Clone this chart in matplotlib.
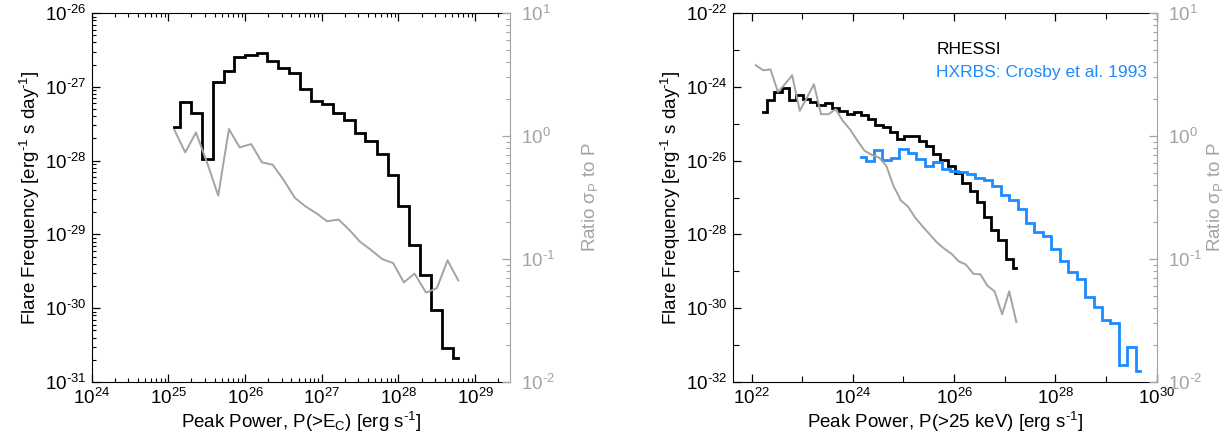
import numpy as np
import matplotlib
matplotlib.use("Agg")
import matplotlib.pyplot as plt
from matplotlib.ticker import LogLocator, NullFormatter, FuncFormatter

plt.rcParams['font.family'] = ['Liberation Sans', 'DejaVu Sans']
plt.rcParams['mathtext.fontset'] = 'custom'
plt.rcParams['mathtext.rm'] = 'Liberation Sans'
plt.rcParams['mathtext.it'] = 'Liberation Sans:italic'
plt.rcParams['mathtext.bf'] = 'Liberation Sans:bold'
plt.rcParams['mathtext.sf'] = 'Liberation Sans'
plt.rcParams['axes.unicode_minus'] = False

GRAY = '#a3a3a3'
BLUE = '#1a8cff'

# ---- left panel: flare frequency vs peak power P(>Ec) (log10 values) ----
left_logp = [25.08, 25.22, 25.36, 25.51, 25.65, 25.79, 25.93, 26.08, 26.22,
             26.36, 26.50, 26.65, 26.79, 26.93, 27.07, 27.22, 27.36, 27.50,
             27.64, 27.79, 27.93, 28.07, 28.21, 28.36, 28.50, 28.64, 28.78]
left_logfreq = [-27.55, -27.21, -27.35, -27.98, -26.94, -26.78, -26.59, -26.57, -26.54,
                -26.65, -26.74, -26.81, -27.03, -27.19, -27.23, -27.35, -27.45, -27.63,
                -27.73, -27.91, -28.20, -28.61, -29.14, -29.55, -30.03, -30.54, -30.67]
left_logratio = [0.049, -0.133, 0.029, -0.225, -0.484, 0.057, -0.092, -0.065, -0.214,
                 -0.233, -0.354, -0.503, -0.573, -0.628, -0.693, -0.679, -0.764, -0.860,
                 -0.925, -1.001, -1.033, -1.190, -1.119, -1.273, -1.238, -1.011, -1.174]

# ---- right panel: RHESSI vs HXRBS, P(>25 keV) ----
rhessi_logp = [22.23, 22.37, 22.52, 22.66, 22.80, 22.95, 23.09, 23.23, 23.37, 23.52,
               23.66, 23.80, 23.95, 24.09, 24.23, 24.37, 24.52, 24.66, 24.80, 24.95,
               25.09, 25.23, 25.38, 25.52, 25.66, 25.80, 25.95, 26.09, 26.23, 26.38,
               26.52, 26.66, 26.80, 26.95, 27.09, 27.23]
rhessi_logfreq = [-24.69, -24.36, -24.13, -24.04, -24.35, -24.22, -24.33, -24.41, -24.49, -24.45,
                  -24.58, -24.65, -24.74, -24.68, -24.76, -24.87, -25.04, -25.08, -25.22, -25.40,
                  -25.32, -25.32, -25.46, -25.59, -25.82, -25.98, -26.15, -26.34, -26.61, -26.83,
                  -27.11, -27.53, -27.87, -28.14, -28.66, -28.90]

ratio_logp = [22.08, 22.23, 22.37, 22.52, 22.66, 22.80, 22.95, 23.09, 23.23, 23.37,
              23.52, 23.66, 23.80, 23.95, 24.09, 24.23, 24.37, 24.52, 24.66, 24.80,
              24.95, 25.09, 25.23, 25.38, 25.52, 25.66, 25.80, 25.95, 26.09, 26.23,
              26.38, 26.52, 26.66, 26.80, 26.95, 27.09, 27.23]
ratio_logval = [0.576, 0.535, 0.543, 0.359, 0.424, 0.495, 0.205, 0.311, 0.422, 0.178,
                0.178, 0.219, 0.124, 0.051, -0.038, -0.119, -0.152, -0.176, -0.241, -0.403,
                -0.525, -0.573, -0.663, -0.736, -0.800, -0.865, -0.914, -0.958, -1.019, -1.044,
                -1.120, -1.125, -1.218, -1.263, -1.449, -1.263, -1.512]

hxrbs_logp = [24.17, 24.34, 24.50, 24.67, 24.84, 25.00, 25.17, 25.34, 25.50, 25.67,
              25.84, 26.00, 26.17, 26.34, 26.50, 26.67, 26.84, 27.00, 27.17, 27.34,
              27.50, 27.67, 27.84, 28.00, 28.17, 28.34, 28.50, 28.67, 28.84, 29.00,
              29.17, 29.34, 29.50, 29.67]
hxrbs_logfreq = [-25.91, -26.00, -25.70, -25.98, -25.94, -25.69, -25.80, -25.95, -26.14, -26.03,
                 -26.22, -26.27, -26.32, -26.36, -26.46, -26.53, -26.70, -26.92, -27.06, -27.31,
                 -27.68, -27.94, -28.04, -28.39, -28.72, -29.01, -29.22, -29.69, -29.96, -30.32,
                 -30.40, -31.53, -31.05, -31.69]

FREQ_LABEL = r'Flare Frequency [erg$^{\text{-}1}$ s day$^{\text{-}1}$]'


def hist_steps(logx, logy):
    # histogram-style steps, edges at log-midpoints between bin centres
    logx = np.asarray(logx)
    logy = np.asarray(logy)
    mids = (logx[1:] + logx[:-1]) / 2
    xs = np.concatenate([[logx[0]], np.repeat(mids, 2), [logx[-1]]])
    ys = np.repeat(logy, 2)
    return 10 ** xs, 10 ** ys


def pow10(v, pos=None):
    e = int(round(np.log10(v)))
    if e < 0:
        return r'$\mathdefault{10^{\text{-}%d}}$' % (-e)
    return r'$\mathdefault{10^{%d}}$' % e


def style_ratio_axis(ax2, labelpad):
    ax2.set_yscale('log')
    ax2.set_ylim(1e-2, 1e1)
    ax2.yaxis.set_major_locator(LogLocator(base=10, numticks=10))
    ax2.yaxis.set_minor_locator(LogLocator(base=10, subs=np.arange(2, 10), numticks=20))
    ax2.yaxis.set_major_formatter(FuncFormatter(pow10))
    ax2.yaxis.set_minor_formatter(NullFormatter())
    ax2.tick_params(axis='y', which='both', direction='in', colors=GRAY, labelsize=13.5, pad=8)
    ax2.tick_params(axis='y', which='major', length=6, width=0.9)
    ax2.tick_params(axis='y', which='minor', length=3, width=0.8)
    ax2.spines['right'].set_color(GRAY)
    for s in ['left', 'top', 'bottom']:
        ax2.spines[s].set_visible(False)
    ax2.set_ylabel('Ratio σ$_{\\mathrm{P}}$ to P', color=GRAY, fontsize=13.5,
                   labelpad=labelpad)


fig = plt.figure(figsize=(12.22, 4.38), dpi=100)

# ---------------- left panel ----------------
ax = fig.add_axes([0.075, 0.128, 0.3424, 0.842])
x, y = hist_steps(left_logp, left_logfreq)
ax.plot(x, y, color='black', lw=2.0, solid_joinstyle='miter')
ax.set_xscale('log')
ax.set_yscale('log')
ax.set_xlim(1e24, 10 ** 29.455)
ax.set_ylim(1e-31, 1e-26)
ax.xaxis.set_major_locator(LogLocator(base=10, numticks=10))
ax.xaxis.set_minor_locator(LogLocator(base=10, subs=np.arange(2, 10), numticks=20))
ax.yaxis.set_major_locator(LogLocator(base=10, numticks=10))
ax.yaxis.set_minor_locator(LogLocator(base=10, subs=np.arange(2, 10), numticks=20))
ax.xaxis.set_major_formatter(FuncFormatter(pow10))
ax.yaxis.set_major_formatter(FuncFormatter(pow10))
ax.xaxis.set_minor_formatter(NullFormatter())
ax.yaxis.set_minor_formatter(NullFormatter())
ax.tick_params(which='both', direction='in', top=True, right=False, labelsize=13.5, pad=4)
ax.tick_params(which='major', length=6, width=0.9)
ax.tick_params(which='minor', length=3, width=0.8)
ax.spines['right'].set_visible(False)
ax.set_xlabel(r'Peak Power, P(>E$_{\mathrm{C}}$) [erg s$^{\text{-}1}$]', fontsize=13.5, labelpad=2)
ax.set_ylabel(FREQ_LABEL, fontsize=13.5, labelpad=2)

ax2 = ax.twinx()
ax2.plot(10 ** np.asarray(left_logp), 10 ** np.asarray(left_logratio), color=GRAY, lw=1.4)
style_ratio_axis(ax2, labelpad=18)

# ---------------- right panel ----------------
bx = fig.add_axes([0.5998, 0.128, 0.3466, 0.842])
x, y = hist_steps(rhessi_logp, rhessi_logfreq)
bx.plot(x, y, color='black', lw=2.0, solid_joinstyle='miter')
x, y = hist_steps(hxrbs_logp, hxrbs_logfreq)
bx.plot(x, y, color=BLUE, lw=2.0, solid_joinstyle='miter')
bx.set_xscale('log')
bx.set_yscale('log')
bx.set_xlim(10 ** 21.63, 1e30)
bx.set_ylim(1e-32, 1e-22)
bx.xaxis.set_major_locator(LogLocator(base=100, numticks=10))
bx.xaxis.set_minor_locator(LogLocator(base=10, subs=[1.0], numticks=20))
bx.yaxis.set_major_locator(LogLocator(base=100, numticks=10))
bx.yaxis.set_minor_locator(LogLocator(base=10, subs=[1.0], numticks=20))
bx.xaxis.set_major_formatter(FuncFormatter(pow10))
bx.yaxis.set_major_formatter(FuncFormatter(pow10))
bx.xaxis.set_minor_formatter(NullFormatter())
bx.yaxis.set_minor_formatter(NullFormatter())
bx.tick_params(which='both', direction='in', top=True, right=False, labelsize=13.5, pad=4)
bx.tick_params(which='major', length=6, width=0.9)
bx.tick_params(which='minor', length=4.5, width=0.8)
bx.spines['right'].set_visible(False)
bx.set_xlabel(r'Peak Power, P(>25 keV) [erg s$^{\text{-}1}$]', fontsize=13.5, labelpad=2)
bx.set_ylabel(FREQ_LABEL, fontsize=13.5, labelpad=2)
bx.text(0.48, 0.888, 'RHESSI', transform=bx.transAxes, fontsize=12.5, color='black')
bx.text(0.48, 0.827, 'HXRBS: Crosby et al. 1993', transform=bx.transAxes, fontsize=12.5, color=BLUE)

bx2 = bx.twinx()
bx2.plot(10 ** np.asarray(ratio_logp), 10 ** np.asarray(ratio_logval), color=GRAY, lw=1.4)
style_ratio_axis(bx2, labelpad=2)

fig.savefig('out.png', dpi=100)
